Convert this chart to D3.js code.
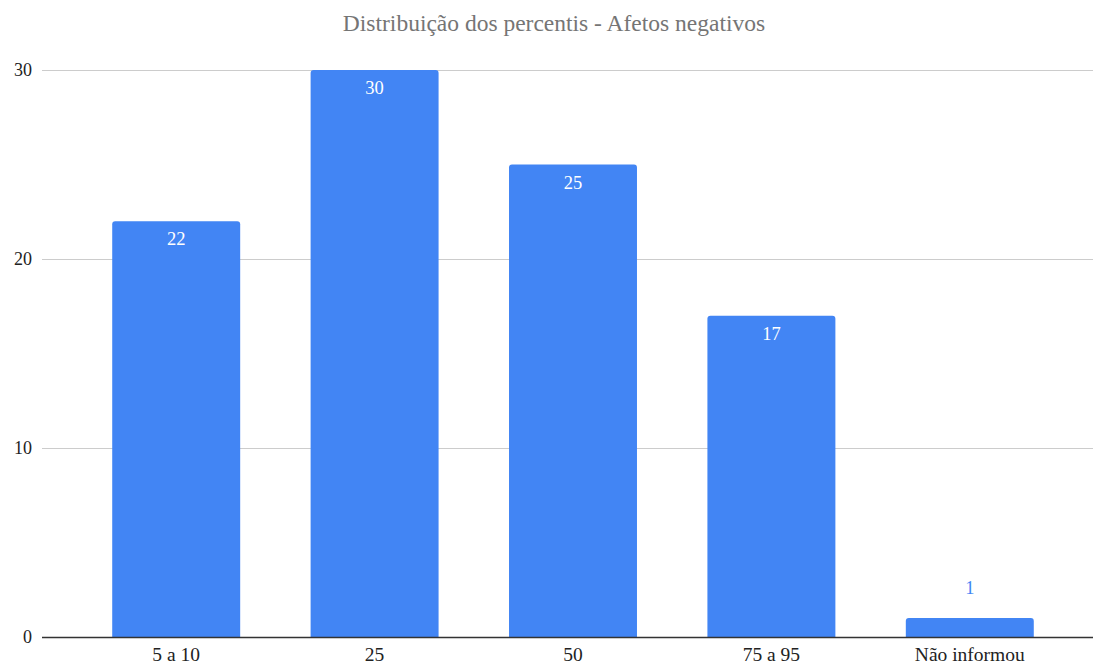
<!DOCTYPE html>
<html>
<head>
<meta charset="utf-8">
<script src="https://cdn.jsdelivr.net/npm/d3@7"></script>
<style>
  body { margin: 0; background: #fff; }
</style>
</head>
<body>
<div id="chart"></div>
<script>
var categories = ["5 a 10", "25", "50", "75 a 95", "Não informou"];
var values = [22, 30, 25, 17, 1];
var yTicks = [0, 10, 20, 30];
var title = "Distribuição dos percentis - Afetos negativos";

var width = 1093, height = 665;
var font = "'Liberation Serif', 'Times New Roman', serif";

var svg = d3.select("#chart").append("svg")
    .attr("width", width)
    .attr("height", height)
    .style("background-color", "white");

var x = d3.scaleBand()
    .domain(categories)
    .range([77, 1069])
    .paddingInner(0.355)
    .paddingOuter(0.1775);

var y = d3.scaleLinear()
    .domain([0, 30])
    .range([637, 70]);

// title
svg.append("text")
    .attr("x", 554)
    .attr("y", 31)
    .style("text-anchor", "middle")
    .style("fill", "#757575")
    .style("font-family", font)
    .style("font-size", "23.5px")
    .text(title);

// gridlines
svg.append("g")
    .attr("class", "grid")
    .selectAll("line")
    .data(yTicks.filter(function(d) { return d > 0; }))
    .enter()
    .append("line")
    .attr("x1", 42)
    .attr("x2", 1093)
    .attr("y1", function(d) { return y(d) + 0.5; })
    .attr("y2", function(d) { return y(d) + 0.5; })
    .attr("stroke", "#cccccc")
    .attr("stroke-width", 1);

// y tick labels
svg.append("g")
    .attr("class", "y-labels")
    .selectAll("text")
    .data(yTicks)
    .enter()
    .append("text")
    .attr("x", 32)
    .attr("y", function(d) { return y(d) + 6; })
    .style("text-anchor", "end")
    .style("fill", "#222222")
    .style("font-family", font)
    .style("font-size", "18px")
    .text(function(d) { return d; });

// bars with slightly rounded tops
function barPath(d, i) {
    var x0 = x(categories[i]), w = x.bandwidth();
    var top = y(d), bottom = y(0), r = Math.min(3, (bottom - top) / 2);
    return "M" + x0 + "," + bottom +
        "V" + (top + r) +
        "Q" + x0 + "," + top + " " + (x0 + r) + "," + top +
        "H" + (x0 + w - r) +
        "Q" + (x0 + w) + "," + top + " " + (x0 + w) + "," + (top + r) +
        "V" + bottom + "Z";
}

svg.append("g")
    .attr("class", "bars")
    .selectAll("path")
    .data(values)
    .enter()
    .append("path")
    .attr("d", barPath)
    .attr("fill", "#4285f4");

// value labels
svg.append("g")
    .attr("class", "values")
    .selectAll("text")
    .data(values)
    .enter()
    .append("text")
    .attr("x", function(d, i) { return x(categories[i]) + x.bandwidth() / 2; })
    .attr("y", function(d) {
        var h = y(0) - y(d);
        return h > 30 ? y(d) + 24 : y(d) - 24;
    })
    .style("text-anchor", "middle")
    .style("fill", function(d) { return (y(0) - y(d)) > 30 ? "#ffffff" : "#4285f4"; })
    .style("font-family", font)
    .style("font-size", "18.5px")
    .text(function(d) { return d; });

// baseline
svg.append("line")
    .attr("x1", 42)
    .attr("x2", 1093)
    .attr("y1", y(0) + 0.5)
    .attr("y2", y(0) + 0.5)
    .attr("stroke", "#333333")
    .attr("stroke-width", 1.5);

// x labels
svg.append("g")
    .attr("class", "x-labels")
    .selectAll("text")
    .data(categories)
    .enter()
    .append("text")
    .attr("x", function(d) { return x(d) + x.bandwidth() / 2; })
    .attr("y", 661)
    .style("text-anchor", "middle")
    .style("fill", "#222222")
    .style("font-family", font)
    .style("font-size", "19.5px")
    .text(function(d) { return d; });
</script>
</body>
</html>
